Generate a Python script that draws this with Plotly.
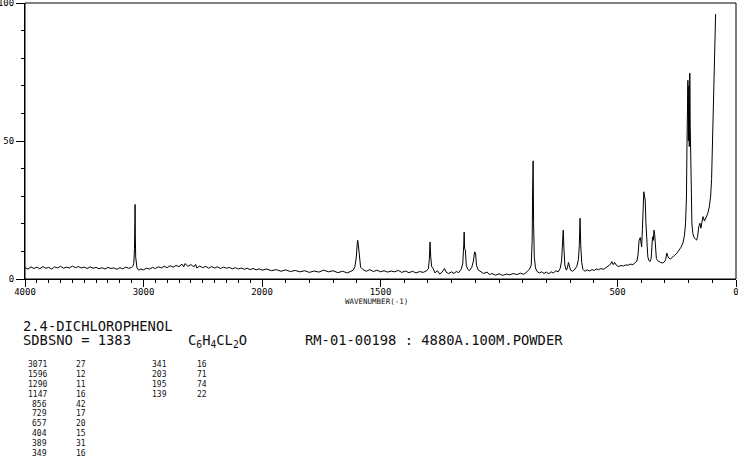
import numpy as np
import plotly.graph_objects as go

# ---------------- data ----------------
wavenumber = [
    4000, 3975, 3950, 3925, 3900, 3875, 3850, 3825, 3800, 3775, 3750, 3725, 3700, 3675, 3650, 3625,
    3600, 3575, 3550, 3525, 3500, 3475, 3450, 3425, 3400, 3375, 3350, 3325, 3300, 3275, 3250, 3225,
    3200, 3175, 3150, 3125, 3100, 3090, 3082, 3076, 3073, 3071, 3069, 3066, 3062, 3055, 3040, 3025,
    3000, 2975, 2950, 2925, 2900, 2875, 2850, 2825, 2800, 2775, 2750, 2725, 2700, 2675, 2660, 2650,
    2625, 2600, 2575, 2560, 2550, 2525, 2500, 2475, 2450, 2425, 2400, 2375, 2350, 2325, 2300, 2275,
    2250, 2225, 2200, 2175, 2150, 2125, 2100, 2075, 2050, 2025, 2000,
    1980, 1960, 1940, 1920, 1900, 1880, 1860, 1840, 1820, 1800, 1780, 1760, 1740, 1720, 1700, 1680,
    1660, 1640, 1625, 1615, 1608, 1602, 1598, 1596, 1593, 1589, 1584, 1575, 1560, 1545, 1530, 1515,
    1500, 1485, 1470, 1455, 1440, 1425, 1410, 1395, 1380, 1365, 1350, 1335, 1320, 1305, 1298, 1294,
    1291, 1288, 1284, 1278, 1270, 1260, 1250, 1240, 1230, 1222, 1212, 1200, 1190, 1180, 1170, 1160,
    1153, 1149, 1147, 1145, 1142, 1138, 1132, 1125, 1115, 1108, 1103, 1099, 1095, 1088, 1078, 1065,
    1050, 1040, 1030, 1015, 1000, 985, 970, 955, 940, 925, 910, 895, 882, 872, 864, 860,
    858, 856, 854, 851, 846, 840, 830, 820, 810, 800, 790, 780, 770, 760, 750, 742,
    736, 732, 729, 726, 722, 716, 711, 707, 703, 698, 690, 680, 672, 665, 661, 658,
    655, 651, 646, 638, 628, 618, 608, 598, 590, 580, 570, 560, 550, 540, 530, 524,
    518, 512, 505, 495, 485, 475, 465, 455, 445, 435, 425, 418, 413, 409, 404, 401,
    398, 395, 392, 389, 386, 383, 380, 376, 372, 368, 363, 358, 355, 352, 349, 346,
    343, 340, 336, 331, 325, 318, 310, 303, 297, 292, 288, 283, 276, 268, 260, 250,
    240, 232, 224, 218, 213, 209, 207, 205, 204, 203, 201, 199, 197, 195, 193, 191,
    189, 186, 182, 177, 172, 166, 162, 157, 152, 148, 144, 139, 133, 127, 120, 113,
    107, 103, 99, 96, 92, 89, 87, 86,
]
intensity = [
    4.1, 3.6, 4.4, 3.8, 4.3, 3.7, 4.5, 3.9, 4.2, 3.6, 4.4, 4.0, 4.6, 3.9, 4.3, 4.0,
    4.7, 4.1, 4.5, 4.0, 4.3, 3.8, 4.4, 3.9, 4.2, 3.7, 4.1, 3.6, 4.2, 3.8, 4.0, 3.5,
    4.1, 3.7, 4.3, 3.9, 4.2, 4.6, 5.5, 11, 20, 27, 16, 8, 5.2, 4.0, 3.2, 3.6,
    3.3, 3.9, 3.6, 4.2, 3.8, 4.4, 4.0, 4.6, 4.1, 4.8, 4.3, 4.9, 4.5, 5.4, 4.4, 5.6,
    4.6, 5.2, 4.4, 5.3, 4.0, 4.7, 4.1, 4.6, 3.9, 4.5, 4.0, 4.4, 3.8, 4.3, 3.9, 4.2,
    3.7, 4.1, 3.6, 4.0, 3.5, 3.9, 3.4, 3.8, 3.3, 3.7, 3.2,
    3.6, 3.0, 3.4, 2.8, 3.3, 2.7, 3.1, 2.6, 3.0, 2.4, 2.9, 2.5, 3.2, 2.6, 3.0, 2.3,
    2.8, 2.2, 2.7, 3.2, 4.5, 8, 13, 14, 12, 7, 4.3, 3.5, 2.8, 3.4, 2.7, 3.2,
    2.6, 3.0, 2.5, 2.9, 2.6, 3.1, 2.4, 2.9, 2.3, 2.8, 2.2, 2.7, 2.4, 3.0, 3.8, 7,
    13.4, 8, 4.5, 3.8, 2.2, 3.0, 1.8, 2.5, 3.8, 2.4, 2.0, 2.6, 2.0, 2.7, 2.3, 3.5,
    5.5, 12, 17, 11, 10.5, 5, 3.5, 3.0, 4.2, 6.5, 9.8, 9.5, 5, 3.3, 2.8, 2.0,
    2.5, 1.6, 2.0, 1.4, 1.9, 1.3, 1.8, 1.5, 2.0, 1.6, 2.1, 1.7, 2.6, 3.5, 5, 14,
    33, 42.8, 20, 8, 4, 2.8, 2.2, 2.6, 2.0, 2.5, 1.9, 2.6, 2.2, 3.0, 2.6, 3.8,
    6.5, 12.5, 17.7, 11, 5, 3.2, 4, 6, 4.5, 3.2, 2.8, 3.5, 4.5, 7, 12.5, 22,
    12, 6, 3.5, 2.8, 3.3, 2.9, 3.4, 3.1, 3.6, 3.4, 3.8, 3.5, 4.0, 4.6, 5.3, 6.3,
    5.2, 6.0, 5.0, 4.5, 4.9, 4.7, 5.1, 5.0, 5.4, 5.2, 5.8, 6.5, 9, 14, 15, 12.5,
    11.6, 18, 29, 31.6, 30, 28.6, 20, 11, 8, 6.8, 6.3, 7.5, 13, 15.3, 14, 17.7,
    16, 11, 7.5, 6.6, 6.2, 6.0, 5.8, 6.1, 7.0, 9.4, 8.3, 7.5, 7.3, 7.8, 8.5, 9.3,
    10.5, 11.5, 13, 15.5, 20, 30, 48, 69.7, 52, 72, 50, 70, 48, 74.6, 55, 42,
    28, 20, 16.5, 15, 14.6, 14.1, 15.5, 19, 20.2, 18.4, 20.5, 22.6, 21, 22, 23.5, 26,
    30, 36, 50, 65, 76, 85, 93, 96,
]

x_tick_upper = [4000, 3000, 2000]
x_tick_lower = [1500, 500, 0]
y_ticks = [0, 50, 100]

compound = "2.4-DICHLOROPHENOL"
sdbs_line = "SDBSNO = 1383"
formula = "C<sub>6</sub>H<sub>4</sub>CL<sub>2</sub>O"
conditions = "RM-01-00198 : 4880A.100M.POWDER"
axis_title = "WAVENUMBER(-1)"

peak_wn = [3071, 1596, 1290, 1147, 856, 729, 657, 404, 389, 349, 341, 203, 195, 139]
peak_int = [27, 12, 11, 16, 42, 17, 20, 15, 31, 16, 16, 71, 74, 22]

# ---------------- figure ----------------
W, H = 738, 457
L, R, T, B = 25, 2, 3, 178
pw, ph = W - L - R, H - T - B


def px(x):
    return (x - L) / pw


def py(y):
    return (H - B - y) / ph


wn = np.array(wavenumber, dtype=float)
it = np.array(intensity, dtype=float)
up = wn >= 2000
lo = wn <= 2000

MONO = "DejaVu Sans Mono"
line = dict(color="black", width=1)

fig = go.Figure()
fig.add_trace(go.Scatter(x=wn[up], y=it[up], mode="lines", line=line,
                         xaxis="x", yaxis="y", showlegend=False, hoverinfo="skip"))
fig.add_trace(go.Scatter(x=wn[lo], y=it[lo], mode="lines", line=line,
                         xaxis="x2", yaxis="y", showlegend=False, hoverinfo="skip"))

split = (262 - L) / pw
common_x = dict(
    showgrid=False, zeroline=False, showline=True, linecolor="black", linewidth=1,
    ticks="outside", ticklen=7, tickcolor="black", tickwidth=1,
    tickfont=dict(family=MONO, size=9, color="black"),
    ticklabeloverflow="allow", ticklabelstandoff=-3,
    anchor="y",
)
fig.update_layout(
    width=W, height=H, autosize=False,
    margin=dict(l=L, r=R, t=T, b=B, pad=0, autoexpand=False),
    paper_bgcolor="white", plot_bgcolor="white",
    hovermode=False,
    xaxis=dict(domain=[0, split], range=[4000, 2000],
               tickvals=x_tick_upper, ticktext=[str(v) for v in x_tick_upper],
               minor=dict(dtick=100, tick0=0, ticks="outside", ticklen=3, tickcolor="black"),
               **common_x),
    xaxis2=dict(domain=[split, 1], range=[2000, 0],
                tickvals=x_tick_lower, ticktext=[str(v) for v in x_tick_lower],
                minor=dict(dtick=100, tick0=0, ticks="outside", ticklen=3, tickcolor="black"),
                **common_x),
    yaxis=dict(domain=[0, 1], range=[0, 100], showgrid=False, zeroline=False,
               showline=True, linecolor="black", linewidth=1,
               tickvals=y_ticks, ticktext=[str(v) for v in y_ticks],
               ticks="outside", ticklen=8, tickcolor="black",
               ticklabeloverflow="allow", ticklabelstandoff=0,
               minor=dict(dtick=10, tick0=0, ticks="outside", ticklen=3, tickcolor="black"),
               tickfont=dict(family=MONO, size=9, color="black")),
    shapes=[dict(type="rect", xref="paper", yref="paper", x0=0, x1=1, y0=0, y1=1,
                 line=dict(color="black", width=1))],
)

anns = []


def txt(x, y, s, size, xanchor="left"):
    anns.append(dict(x=px(x), y=py(y), xref="paper", yref="paper", text=s, showarrow=False,
                     xanchor=xanchor, yanchor="middle", borderpad=0,
                     font=dict(family=MONO, size=size, color="#111")))


txt(376, 301, axis_title, 7.5, "center")
txt(22, 325.7, compound, 13.8)
txt(22, 339.7, sdbs_line, 13.8)
txt(187, 340.5, formula, 13.8)
txt(304, 339.7, conditions, 13.8)

row0, dy = 364.3, 9.93
n1 = 10
for i, (w, v) in enumerate(zip(peak_wn, peak_int)):
    if i < n1:
        r, cx1, cx2 = i, 47.5, 87
    else:
        r, cx1, cx2 = i - n1, 167.5, 208
    yy = row0 + r * dy
    txt(cx1, yy, str(w), 8, "right")
    txt(cx2, yy, str(v), 8, "right")

fig.update_layout(annotations=anns)
fig.write_html(
    "out.html",
    config={"displayModeBar": False, "responsive": False, "staticPlot": True},
    post_script="document.documentElement.style.margin='0';document.body.style.margin='0';"
                "document.body.style.padding='0';document.body.style.overflow='hidden';",
)
